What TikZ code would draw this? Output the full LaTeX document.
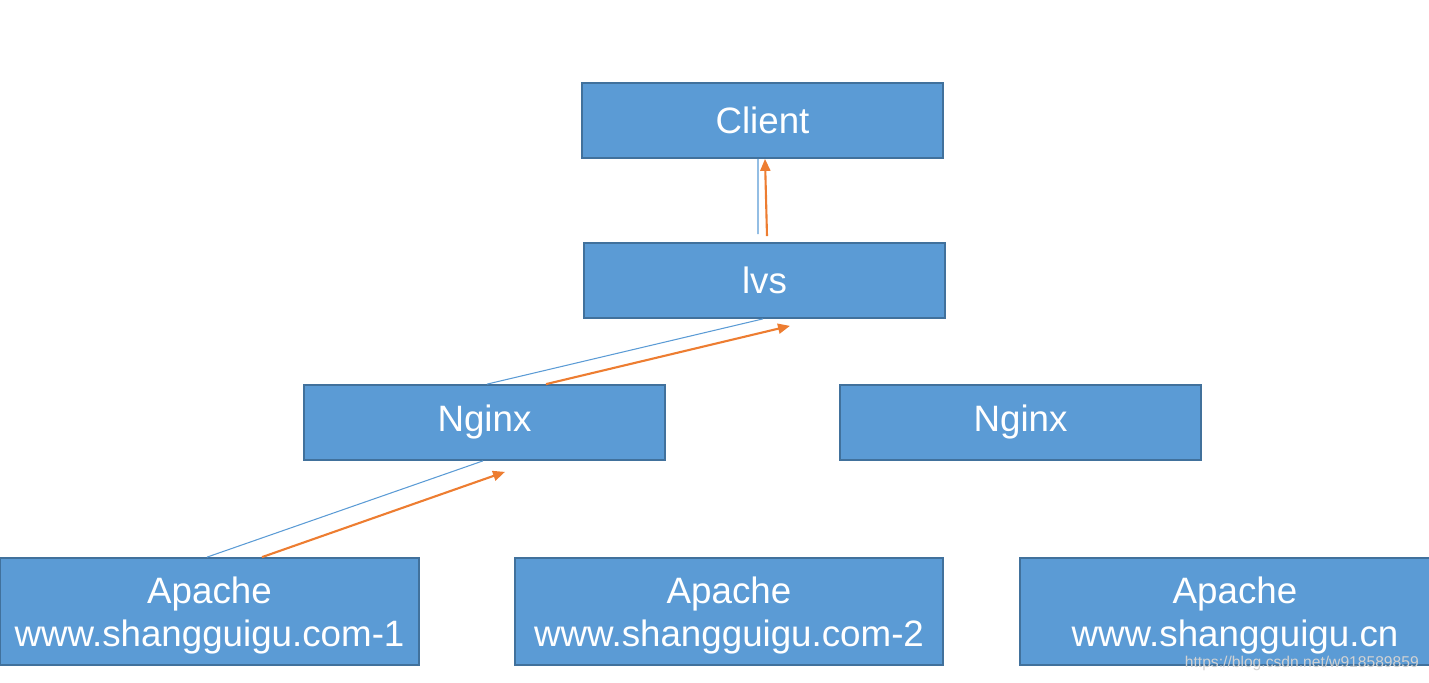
\documentclass[tikz,border=0pt]{standalone}
\usepackage{fontspec}
\setmainfont{Liberation Sans}
\usetikzlibrary{arrows.meta,positioning,calc}
\definecolor{boxfill}{HTML}{5B9BD5}
\definecolor{boxline}{HTML}{41719C}
\definecolor{reqline}{HTML}{5B9BD5}
\definecolor{respline}{HTML}{ED7D31}
\newcommand{\toppad}{\rule{0pt}{20pt}}

\begin{document}
\begin{tikzpicture}
  \tikzstyle{block} = [rectangle, draw=boxline, line width=1pt, fill=boxfill, text=white, align=center, minimum width=7.22cm, minimum height=1.5cm, inner sep=0pt, font=\fontsize{20.9}{24.5}\selectfont]
  \tikzstyle{server} = [block, minimum height=2.14cm]
  \tikzstyle{req} = [draw=reqline, line width=0.6pt]
  \tikzstyle{arrow} = [draw=respline, line width=1.2pt, -{Triangle[length=0.24cm,width=0.2cm]}]
  \useasboundingbox (0,0) rectangle (28.58,-13.66);
  \node [block] (client) at (15.25,-2.41) {Client};
  \node [block] (lvs) at (15.29,-5.61) {lvs};
  \node [block] (nginxa) at (9.69,-8.45) {Nginx};
  \node [block] (nginxb) at (20.41,-8.45) {Nginx};
  \node [server, minimum width=8.38cm] (apachea) at (4.19,-12.23) {\toppad Apache\\www.shangguigu.com-1};
  \node [server, minimum width=8.56cm] (apacheb) at (14.58,-12.23) {\toppad Apache\\www.shangguigu.com-2};
  \node [server, minimum width=8.6cm] (apachec) at (24.7,-12.23) {\toppad Apache\\www.shangguigu.cn};
  \node [anchor=east, text=gray!35, font=\fontsize{8.9}{10}\selectfont] (mark) at (28.5,-13.26) {https://blog.csdn.net/w918589859};
  % request path
  \draw [req] ([xshift=-0.13cm, yshift=0.16cm]lvs.north) -- ([xshift=-0.09cm]client.south);
  \draw [req] ([xshift=0.05cm]nginxa.north) -- ([xshift=-0.03cm]lvs.south);
  \draw [req] ([xshift=-0.05cm]apachea.north) -- ([xshift=-0.03cm]nginxa.south);
  % response path
  \draw [arrow] ([xshift=0.05cm, yshift=0.12cm]lvs.north) -- ([xshift=0.05cm]client.south);
  \draw [arrow] ([xshift=1.23cm]nginxa.north) -- ([xshift=0.51cm, yshift=-0.14cm]lvs.south);
  \draw [arrow] ([xshift=1.05cm]apachea.north) -- ([xshift=0.41cm, yshift=-0.22cm]nginxa.south);
\end{tikzpicture}
\end{document}
